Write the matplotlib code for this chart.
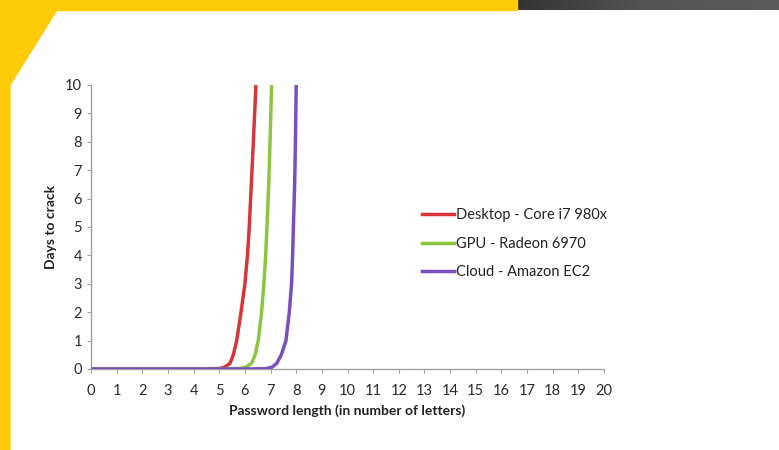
import matplotlib
matplotlib.use("Agg")
import matplotlib.pyplot as plt
from matplotlib.patches import Polygon, Rectangle
import numpy as np

plt.rcParams['font.family'] = ['Lato', 'DejaVu Sans']

# длина пароля -> дни на взлом
desktop_x = [0, 1, 2, 3, 4, 5, 5.2, 5.42, 5.55, 5.68, 5.85, 6.0, 6.1, 6.17, 6.25, 6.33, 6.38, 6.43]
desktop_y = [0, 0, 0, 0, 0, 0.02, 0.06, 0.2, 0.5, 1.0, 2.0, 3.0, 4.0, 5.0, 6.5, 8.0, 9.0, 10.0]

gpu_x = [0, 1, 2, 3, 4, 5, 5.8, 6.05, 6.26, 6.4, 6.52, 6.65, 6.74, 6.81, 6.86, 6.93, 6.98, 7.04]
gpu_y = [0, 0, 0, 0, 0, 0, 0.02, 0.07, 0.2, 0.5, 1.0, 2.0, 3.0, 4.0, 5.0, 6.5, 8.0, 10.0]

cloud_x = [0, 1, 2, 3, 4, 5, 6, 6.8, 7.05, 7.24, 7.42, 7.6, 7.73, 7.82, 7.86, 7.89, 7.94, 7.97, 8.0]
cloud_y = [0, 0, 0, 0, 0, 0, 0, 0.01, 0.06, 0.2, 0.5, 1.0, 2.0, 3.0, 4.0, 5.0, 6.5, 8.0, 10.0]

x_ticks = list(range(0, 21))
y_ticks = list(range(0, 11))

fig = plt.figure(figsize=(7.79, 4.5), dpi=100)
fig.patch.set_facecolor('white')

# рамка: жёлтая полоса сверху и слева, серая полоса справа
yellow = '#ffcb08'
fig.patches.append(Rectangle((0, 1 - 10 / 450), 517 / 779, 10 / 450, transform=fig.transFigure,
                             color=yellow, zorder=0))
grad = np.linspace(0, 1, 256).reshape(1, -1)
gax = fig.add_axes([517 / 779, 1 - 10 / 450, 1 - 517 / 779, 10 / 450])
gax.imshow(grad, aspect='auto', cmap=matplotlib.colors.LinearSegmentedColormap.from_list(
    'g', ['#333333', '#555555', '#5a5a5a']))
gax.axis('off')
fig.patches.append(Polygon([(0, 0), (0, 1), (57 / 779, 1 - 10 / 450), (10 / 779, 1 - 85 / 450),
                            (10 / 779, 0)], closed=True, transform=fig.transFigure,
                           color=yellow, zorder=0))

ax = fig.add_axes([91 / 779, 1 - 369 / 450, (604 - 91) / 779, (369 - 85) / 450])
ax.set_facecolor('none')

ax.plot(desktop_x, desktop_y, color='#d9343a', lw=2.5, label='Desktop - Core i7 980x', zorder=3)
ax.plot(gpu_x, gpu_y, color='#8cc63f', lw=2.5, label='GPU - Radeon 6970', zorder=3)
ax.plot(cloud_x, cloud_y, color='#7a4fc0', lw=2.5, label='Cloud - Amazon EC2', zorder=4)

ax.set_xlim(0, 20)
ax.set_ylim(0, 10)
ax.set_xticks(x_ticks)
ax.set_yticks(y_ticks)
for s in ['top', 'right']:
    ax.spines[s].set_visible(False)
for s in ['left', 'bottom']:
    ax.spines[s].set_color('#a0a0a0')
    ax.spines[s].set_linewidth(1)
ax.tick_params(colors='#a0a0a0', labelcolor='#2a2a2a', labelsize=10.5, length=3, direction='out')
ax.tick_params(axis='x', pad=8)

ax.set_xlabel('Password length (in number of letters)', fontsize=10, fontweight='bold',
              color='#222222', labelpad=4)
ax.set_ylabel('Days to crack', fontsize=10, fontweight='bold', color='#222222', labelpad=6)

ax.legend(loc='upper left', bbox_to_anchor=(0.62, 0.612), frameon=False, fontsize=10.5,
          handlelength=2.2, handletextpad=0.1, labelspacing=1.0, labelcolor='#222222')

fig.savefig('out.png', dpi=100)
